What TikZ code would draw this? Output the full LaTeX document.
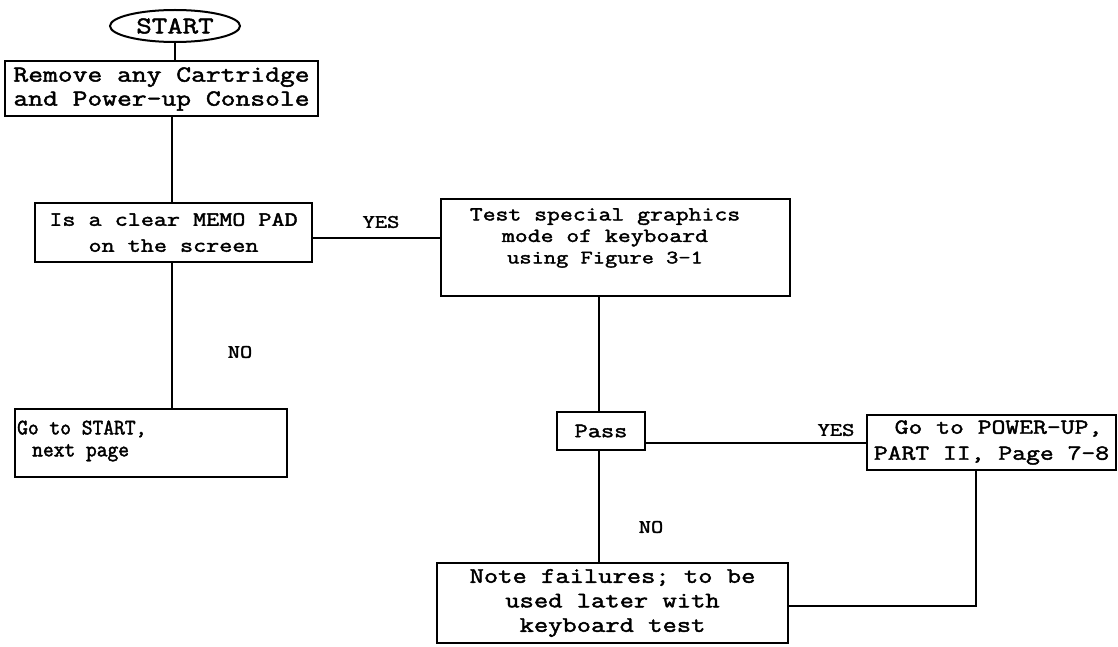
\documentclass[tikz,border=0pt]{standalone}
\usepackage{fontspec}
\newfontfamily\tw[FakeStretch=1.25,FakeBold=2]{Latin Modern Mono}
\newfontfamily\twn[FakeStretch=0.95,FakeBold=2]{Latin Modern Mono}
\usetikzlibrary{shapes.geometric}
\newcommand{\fs}[2]{\tw\fontsize{#1}{#2}\selectfont}
\newcommand{\fsn}[2]{\twn\fontsize{#1}{#2}\selectfont}
\begin{document}
\begin{tikzpicture}[x=1pt,y=-1pt,
  box/.style={draw, line width=2pt, inner sep=0pt},
  conn/.style={line width=1.8pt},
  lbl/.style={inner sep=0pt, font=\fs{19}{20}}]
\useasboundingbox (0,0) rectangle (1118,647);
\fill[white] (0,0) rectangle (1118,647);
% nodes
\node[draw, line width=2pt, ellipse, minimum width=130pt, minimum height=32pt, inner sep=0pt, font=\fs{24}{24}] (start) at (175,26) {START};
\node[box, minimum width=313pt, minimum height=55pt, align=center, font=\fs{23}{24}] (b1) at (161.5,89) {Remove any Cartridge\\and Power-up Console};
\node[box, minimum width=277pt, minimum height=59pt, align=center, font=\fs{20.3}{26}] (b2) at (173.5,232.5) {Is a clear MEMO PAD\\on the screen};
\node[box, minimum width=349pt, minimum height=97pt] (b3) at (615.5,247.5) {};
\node[inner sep=0pt, align=center, font=\fs{20}{21.5}] (b3t) at (605,238) {Test special graphics\\mode of keyboard\\{\fs{19}{22}using Figure 3-1}};
\node[box, minimum width=272pt, minimum height=68pt] (b4) at (151,443) {};
\node[inner sep=0pt, align=left, anchor=west, font=\fsn{22}{22}] (b4t) at (17,441) {Go to START,\\\hspace*{15pt}next page};
\node[box, minimum width=88pt, minimum height=38pt, font=\fs{20.5}{22}] (pass) at (601,431) {Pass};
\node[box, minimum width=249pt, minimum height=55pt, align=center, font=\fs{21.5}{26}] (b5) at (991.5,442.5) {\hspace*{14pt}Go to POWER-UP,\\PART II, Page 7-8};
\node[box, minimum width=351pt, minimum height=80pt, align=center, font=\fs{22.2}{24.5}] (note) at (612.5,603) {Note failures; to be\\used later with\\keyboard test};
% labels
\node[lbl] (yes1) at (381,222) {YES};
\node[lbl] (no1) at (240,352) {NO};
\node[lbl] (yes2) at (836,430) {YES};
\node[lbl] (no2) at (651,527) {NO};
% helper coordinates
\coordinate (xl) at (172,0);
\coordinate (yy) at (0,238);
\coordinate (xp) at (599,0);
\coordinate (yp) at (0,443);
\coordinate (xr) at (976,0);
\coordinate (yr) at (0,606);
% connectors
\draw[conn] (start.south) -- (start.south |- b1.north);
\draw[conn] (b1.south -| xl) -- (b2.north -| xl);
\draw[conn] (b2.east |- yy) -- (b3.west |- yy);
\draw[conn] (b2.south -| xl) -- (b4.north -| xl);
\draw[conn] (b3.south -| xp) -- (pass.north -| xp);
\draw[conn] (pass.east |- yp) -- (b5.west |- yp);
\draw[conn] (pass.south -| xp) -- (note.north -| xp);
\draw[conn] (b5.south -| xr) -- (xr |- yr) -- (note.east |- yr);
\end{tikzpicture}
\end{document}
